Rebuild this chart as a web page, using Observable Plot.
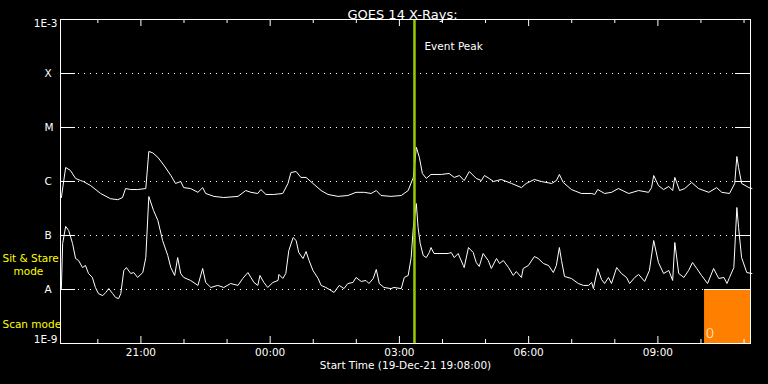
<!DOCTYPE html>
<html><head><meta charset="utf-8">
<script src="https://cdn.jsdelivr.net/npm/d3@7"></script>
<script src="https://cdn.jsdelivr.net/npm/@observablehq/plot@0.6"></script>
<style>
html,body{margin:0;padding:0;background:#000;}
svg{display:block;}
</style></head><body><div id="chart"></div>
<script>
// ---- data ----
const startTime = "2021-12-19T19:08:00Z";
const endTime = "2021-12-20T11:09:00Z";
const eventPeakTime = "2021-12-20T03:21:00Z";
const scanStartTime = "2021-12-20T10:05:00Z";
const titleText = "GOES 14 X-Rays:";
const xTitle = "Start Time (19-Dec-21 19:08:00)";
const majorTickTimes = ["2021-12-19T21:00Z","2021-12-20T00:00Z","2021-12-20T03:00Z","2021-12-20T06:00Z","2021-12-20T09:00Z"];
const majorTickLabels = ["21:00","00:00","03:00","06:00","09:00"];
const classLabels = ["A","B","C","M","X"];
const classFlux = [1e-8,1e-7,1e-6,1e-5,1e-4];
const decadeFlux = [1e-9,1e-8,1e-7,1e-6,1e-5,1e-4,1e-3];
const endLabels = ["1E-9","1E-3"];
const endFlux = [1e-9,1e-3];

// hours since start, flux (W/m^2) — long channel (upper curve)
const longHours = [0.02,0.12,0.23,0.35,0.47,0.53,0.70,0.93,1.16,1.33,
1.44,1.51,1.63,1.79,1.98,2.05,2.14,2.26,2.40,2.56,
2.67,2.79,2.86,3.02,3.19,3.30,3.37,3.56,3.79,4.12,
4.30,4.42,4.58,4.65,4.77,4.95,5.16,5.28,5.35,5.47,
5.58,5.70,5.86,6.05,6.21,6.44,6.67,6.86,7.05,7.21,
7.33,7.44,7.67,7.91,8.07,8.19,8.26,8.33,8.40,8.49,
8.60,8.84,9.02,9.14,9.26,9.37,9.49,9.65,9.77,9.84,
9.95,10.05,10.23,10.47,10.70,10.81,11.00,11.16,11.40,11.51,
11.58,11.67,11.86,12.09,12.33,12.40,12.47,12.63,12.79,12.95,
13.19,13.42,13.65,13.72,13.77,13.88,14.00,14.12,14.21,14.26,
14.37,14.49,14.65,14.81,15.05,15.23,15.35,15.53,15.65,15.70,
15.74,15.81,15.98,16.05];
const longFlux = [5.05e-7,1.82e-6,1.6e-6,1.14e-6,1.04e-6,1.0e-6,8.4e-7,6.0e-7,4.8e-7,4.6e-7,
5.05e-7,7.4e-7,7.1e-7,7.1e-7,7.4e-7,3.6e-6,3.4e-6,2.8e-6,2.0e-6,1.3e-6,
9.2e-7,1.0e-6,7.7e-7,7.4e-7,6.3e-7,7.7e-7,6.0e-7,5.3e-7,5.05e-7,5.3e-7,
6.8e-7,6.3e-7,6.0e-7,7.1e-7,5.75e-7,5.75e-7,6.0e-7,9.2e-7,1.47e-6,1.53e-6,
1.19e-6,1.19e-6,9.2e-7,6.8e-7,5.75e-7,5.3e-7,5.5e-7,6.3e-7,6.3e-7,6.0e-7,
6.8e-7,5.5e-7,5.3e-7,5.5e-7,6.8e-7,1.19e-6,4.3e-6,2.8e-6,1.41e-6,1.14e-6,
1.35e-6,1.35e-6,1.41e-6,1.19e-6,1.29e-6,1.04e-6,1.53e-6,1.14e-6,1.04e-6,1.29e-6,
1.14e-6,1.0e-6,1.09e-6,9.2e-7,7.7e-7,9.2e-7,1.09e-6,1.0e-6,9.2e-7,1.04e-6,
1.35e-6,9.6e-7,7.1e-7,6.0e-7,6.0e-7,5.75e-7,7.1e-7,6.0e-7,6.3e-7,7.4e-7,
6.0e-7,6.8e-7,6.3e-7,7.7e-7,1.29e-6,8.4e-7,7.1e-7,8.1e-7,6.8e-7,1.19e-6,
6.8e-7,7.4e-7,9.6e-7,7.4e-7,6.3e-7,7.7e-7,6.3e-7,6.0e-7,9.2e-7,2.9e-6,
1.82e-6,9.2e-7,7.7e-7,7.4e-7];

// short channel (lower curve)
const shortHours = [0.02,0.05,0.12,0.19,0.28,0.35,0.42,0.51,0.58,0.65,0.74,
0.81,0.88,0.98,1.05,1.12,1.21,1.28,1.35,1.40,1.47,
1.53,1.63,1.70,1.79,1.91,1.98,2.05,2.16,2.26,2.37,
2.49,2.56,2.65,2.72,2.79,2.86,3.02,3.19,3.30,3.37,
3.49,3.65,3.79,3.95,4.12,4.23,4.35,4.42,4.49,4.58,
4.63,4.72,4.81,4.93,5.05,5.07,5.16,5.23,5.30,5.40,
5.47,5.53,5.63,5.70,5.77,5.86,5.98,6.05,6.16,6.28,
6.35,6.47,6.58,6.67,6.79,6.86,6.98,7.09,7.16,7.26,
7.33,7.40,7.51,7.67,7.74,7.91,7.98,8.07,8.14,8.19,
8.26,8.30,8.35,8.42,8.49,8.56,8.60,8.67,8.88,9.00,
9.07,9.14,9.23,9.35,9.37,9.47,9.58,9.65,9.72,9.81,
9.93,10.00,10.12,10.19,10.28,10.40,10.51,10.58,10.70,10.74,
10.86,11.00,11.09,11.21,11.33,11.44,11.51,11.58,11.63,11.70,
11.86,12.02,12.14,12.26,12.33,12.37,12.47,12.56,12.63,12.72,
12.79,12.91,13.02,13.14,13.21,13.33,13.42,13.56,13.67,13.77,
13.88,14.00,14.12,14.21,14.26,14.35,14.47,14.58,14.67,14.77,
14.88,15.02,15.16,15.28,15.40,15.47,15.53,15.63,15.70,15.74,
15.81,15.93,16.05];
const shortFlux = [1.04e-8,7.1e-8,1.47e-7,1.24e-7,7.1e-8,3.75e-8,3.44e-8,2.55e-8,2.78e-8,1.98e-8,1.67e-8,
1.09e-8,8.4e-9,7.7e-9,8.8e-9,1.04e-8,8.4e-9,7.1e-9,6.8e-9,8.4e-9,2.25e-8,
2.55e-8,1.98e-8,2.06e-8,1.67e-8,2.06e-8,3.9e-8,5.27e-7,2.9e-7,1.9e-7,8.07e-8,
4.26e-8,2.55e-8,1.82e-8,3.9e-8,1.98e-8,1.67e-8,1.47e-8,1.19e-8,2.45e-8,1.35e-8,
1.09e-8,1.19e-8,1.09e-8,1.29e-8,1.19e-8,1.6e-8,2.06e-8,1.67e-8,1.35e-8,1.19e-8,
1.82e-8,1.35e-8,1.09e-8,1.35e-8,1.47e-8,1.9e-8,1.6e-8,1.98e-8,5.27e-8,9.17e-8,
8.07e-8,4.84e-8,3.75e-8,5.05e-8,3.44e-8,2.25e-8,1.6e-8,1.19e-8,1.09e-8,9.6e-9,
8.8e-9,1.19e-8,1.04e-8,1.29e-8,1.35e-8,1.67e-8,1.41e-8,1.47e-8,1.29e-8,1.6e-8,
2.35e-8,1.29e-8,1.09e-8,1.04e-8,1.09e-8,1.04e-8,1.67e-8,1.82e-8,3.9e-8,1.41e-7,
3.9e-7,1.41e-7,7.1e-8,4.26e-8,3.9e-8,4.84e-8,5.99e-8,4.64e-8,4.64e-8,4.64e-8,
4.84e-8,3.9e-8,4.64e-8,2.78e-8,2.55e-8,5.99e-8,4.84e-8,3.16e-8,2.67e-8,4.64e-8,
3.44e-8,2.45e-8,3.75e-8,3.03e-8,3.44e-8,2.55e-8,1.82e-8,2.15e-8,1.67e-8,2.45e-8,
2.78e-8,4.08e-8,3.75e-8,3.03e-8,2.78e-8,2.06e-8,2.78e-8,5.99e-8,3.44e-8,1.74e-8,
1.6e-8,1.29e-8,1.19e-8,1.19e-8,1.35e-8,1.04e-8,2.45e-8,1.53e-8,1.29e-8,1.67e-8,
1.29e-8,2.55e-8,1.98e-8,1.67e-8,1.29e-8,1.67e-8,1.9e-8,1.41e-8,2.25e-8,8.07e-8,
3.16e-8,1.98e-8,2.25e-8,1.47e-8,7.41e-8,1.98e-8,1.67e-8,2.25e-8,3.16e-8,2.45e-8,
1.82e-8,1.29e-8,2.45e-8,1.6e-8,1.67e-8,1.29e-8,1.67e-8,2.55e-8,3.3e-7,1.41e-7,
3.9e-8,2.06e-8,1.98e-8];

const modeLabels = ["Sit & Stare", "mode", "Scan mode"];
const modeLabelFlux = [3.67e-8, 2.15e-8, 2.25e-9];

// ---- build ----
const t0 = new Date(startTime);
const t1 = new Date(endTime);
const toDate = h => new Date(+t0 + h * 3600e3);
const longData = longHours.map((h, i) => ({t: toDate(h), f: longFlux[i]}));
const shortData = shortHours.map((h, i) => ({t: toDate(h), f: shortFlux[i]}));
const hourTicks = d3.utcHour.range(d3.utcHour.ceil(t0), t1);
const majorTicks = hourTicks.filter(d => d.getUTCHours() % 3 === 0);
const minorTicks = hourTicks.filter(d => d.getUTCHours() % 3 !== 0);
const majors = majorTickTimes.map((s, i) => ({t: new Date(s), label: majorTickLabels[i]}));
const classes = classFlux.map((f, i) => ({f, label: classLabels[i]}));
const ends = endFlux.map((f, i) => ({f, label: endLabels[i]}));
const modes = modeLabels.map((text, i) => ({text, f: modeLabelFlux[i]}));
const scan = [{x1: new Date(scanStartTime), x2: t1}];
const W = "#ffffff";
const Y = "#ffff00";

const chart = Plot.plot({
  width: 768, height: 384,
  marginLeft: 60, marginRight: 18, marginTop: 19, marginBottom: 41,
  style: {background: "#000", color: "#fff", fontFamily: "DejaVu Sans, sans-serif", fontSize: "10.5px", overflow: "visible"},
  x: {type: "utc", domain: [t0, t1], axis: null},
  y: {type: "log", domain: [1e-9, 1e-3], axis: null},
  marks: [
    Plot.rect(scan, {x1: "x1", x2: "x2", y1: 1e-9, y2: 1e-8, fill: "#ff8000"}),
    Plot.ruleY(scan, {x1: "x1", x2: "x2", y: () => 1e-8, stroke: W}),
    Plot.ruleY(classFlux, {y: d => d, stroke: W, strokeDasharray: "1,5", insetLeft: 18, insetRight: 15}),
    Plot.tickY(decadeFlux, {y: d => d, stroke: W, insetRight: 675}),
    Plot.tickY(decadeFlux, {y: d => d, stroke: W, insetLeft: 675}),
    Plot.tickX(minorTicks, {x: d => d, stroke: W, insetBottom: 320}),
    Plot.tickX(majorTicks, {x: d => d, stroke: W, insetBottom: 317}),
    Plot.tickX(minorTicks, {x: d => d, stroke: W, insetTop: 320}),
    Plot.tickX(majorTicks, {x: d => d, stroke: W, insetTop: 317}),
    Plot.line(longData, {x: "t", y: "f", stroke: W, strokeWidth: 1}),
    Plot.line(shortData, {x: "t", y: "f", stroke: W, strokeWidth: 1}),
    Plot.ruleX([new Date(eventPeakTime)], {x: d => d, stroke: "#99cc00", strokeWidth: 2.5}),
    Plot.frame({stroke: W}),
    Plot.text(majors, {x: "t", text: "label", frameAnchor: "bottom", dy: 12, fill: W}),
    Plot.text([xTitle], {text: d => d, frameAnchor: "bottom", dy: 25, fill: W}),
    Plot.text([titleText], {text: d => d, frameAnchor: "top", dy: -9.5, dx: -3, fontSize: 13, fill: W}),
    Plot.text([new Date(eventPeakTime)], {x: d => d, text: () => "Event Peak", frameAnchor: "top", dy: 23.5, dx: 10, textAnchor: "start", fill: W}),
    Plot.text(classes, {y: "f", text: "label", frameAnchor: "left", dx: -16, fill: W}),
    Plot.text(ends.filter(d => d.f === 1e-3), {y: "f", text: "label", frameAnchor: "left", dx: -3, dy: 4, textAnchor: "end", fill: W}),
    Plot.text(ends.filter(d => d.f === 1e-9), {y: "f", text: "label", frameAnchor: "left", dx: -3, dy: -4, textAnchor: "end", fill: W}),
    Plot.text(modes.filter(d => d.text !== "mode"), {y: "f", text: "text", frameAnchor: "left", dx: -58, textAnchor: "start", fill: Y}),
    Plot.text(modes.filter(d => d.text === "mode"), {y: "f", text: "text", frameAnchor: "left", dx: -47, textAnchor: "start", fill: Y}),
    Plot.text(scan, {x: "x1", text: () => "0", frameAnchor: "bottom", dy: -6, dx: 5.5, fontSize: 14, fontWeight: 200, fill: W})
  ]
});
document.getElementById("chart").appendChild(chart);
</script>
</body></html>
